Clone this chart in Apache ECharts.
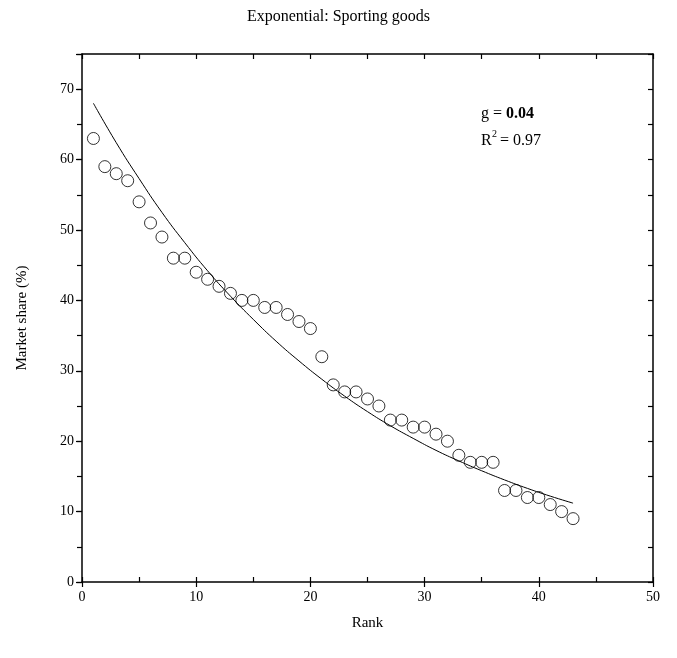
<!DOCTYPE html>
<html>
<head>
<meta charset="utf-8">
<script src="https://cdn.jsdelivr.net/npm/echarts@6/dist/echarts.min.js"></script>
<style>html,body{margin:0;padding:0;background:#fff}#c{width:677px;height:658px}</style>
</head>
<body>
<div id="c"></div>
<script>
var ranks = [];
for (var i = 1; i <= 43; i++) ranks.push(i);
var marketShare = [63,59,58,57,54,51,49,46,46,44,43,42,41,40,40,39,39,38,37,36,32,28,27,27,26,25,23,23,22,22,21,20,18,17,17,17,13,13,12,12,11,10,9];
var fitX = [1,3,5,7,9,11,13,15,17,19,21,23,25,27,29,31,33,35,37,39,41,43];
var fitY = [68.0,62.4,57.3,52.5,48.2,44.2,40.6,37.3,34.2,31.4,28.8,26.4,24.2,22.2,20.4,18.7,17.2,15.8,14.5,13.3,12.2,11.2];
var xTicks = [0,10,20,30,40,50];
var yTicks = [0,10,20,30,40,50,60,70];

var font = '"Liberation Serif", "Times New Roman", serif';
var chart = echarts.init(document.getElementById('c'), null, {renderer: 'canvas'});
var pts = ranks.map(function (r, i) { return [r, marketShare[i]]; });
var fit = fitX.map(function (x, i) { return [x, fitY[i]]; });
var lineStyle = {color: '#000', width: 1.5};
var tickStyle = {color: '#000', width: 1.2};
chart.setOption({
  animation: false,
  title: {text: 'Exponential: Sporting goods', left: 'center', top: 4,
    textStyle: {fontFamily: font, fontSize: 16, fontWeight: 'normal', color: '#000'}},
  grid: {left: 82, right: 24, top: 54, bottom: 76, show: false},
  xAxis: [
    {type: 'value', min: 0, max: 50, interval: 10, position: 'bottom',
      name: 'Rank', nameLocation: 'middle', nameGap: 34,
      nameTextStyle: {fontFamily: font, fontSize: 15, color: '#000'},
      axisLine: {show: true, onZero: false, lineStyle: lineStyle},
      axisTick: {show: true, inside: false, length: 5, lineStyle: tickStyle},
      axisLabel: {fontFamily: font, fontSize: 14, color: '#000', margin: 8,
        formatter: function (v) { return xTicks.indexOf(v) >= 0 ? String(v) : ''; }},
      splitLine: {show: false}},
    {type: 'value', min: 0, max: 50, interval: 5, position: 'bottom',
      axisLine: {show: false, onZero: false}, axisTick: {show: true, inside: true, length: 5, lineStyle: tickStyle},
      axisLabel: {show: false}, splitLine: {show: false}},
    {type: 'value', min: 0, max: 50, interval: 5, position: 'top',
      axisLine: {show: true, onZero: false, lineStyle: lineStyle}, axisTick: {show: true, inside: true, length: 5, lineStyle: tickStyle},
      axisLabel: {show: false}, splitLine: {show: false}}
  ],
  yAxis: [
    {type: 'value', min: 0, max: 75, interval: 10, position: 'left',
      name: 'Market share (%)', nameLocation: 'middle', nameGap: 52, nameRotate: 90,
      nameTextStyle: {fontFamily: font, fontSize: 15, color: '#000'},
      axisLine: {show: true, onZero: false, lineStyle: lineStyle},
      axisTick: {show: true, inside: false, length: 6, lineStyle: tickStyle},
      axisLabel: {fontFamily: font, fontSize: 14, color: '#000', margin: 8,
        formatter: function (v) { return yTicks.indexOf(v) >= 0 ? String(v) : ''; }},
      splitLine: {show: false}},
    {type: 'value', min: 0, max: 75, interval: 5, position: 'left',
      axisLine: {show: false, onZero: false}, axisTick: {show: true, inside: false, length: 5, lineStyle: tickStyle},
      axisLabel: {show: false}, splitLine: {show: false}},
    {type: 'value', min: 0, max: 75, interval: 5, position: 'right',
      axisLine: {show: true, onZero: false, lineStyle: lineStyle}, axisTick: {show: true, inside: true, length: 5, lineStyle: tickStyle},
      axisLabel: {show: false}, splitLine: {show: false}}
  ],
  series: [
    {type: 'line', data: fit, smooth: true, showSymbol: false, symbol: 'none',
      lineStyle: {color: '#000', width: 1}, z: 2},
    {type: 'scatter', data: pts, symbol: 'circle', symbolSize: 12,
      itemStyle: {color: 'rgba(0,0,0,0)', borderColor: '#000', borderWidth: 1}, z: 3}
  ],
  graphic: [
    {type: 'text', left: 481, top: 106, style: {
      text: '{n|g = }{b|0.04}',
      rich: {n: {fontFamily: font, fontSize: 16, fill: '#000'}, b: {fontFamily: font, fontSize: 16, fontWeight: 'bold', fill: '#000'}}}},
    {type: 'text', left: 481, top: 133, style: {text: 'R', font: '16px ' + font, fill: '#000'}},
    {type: 'text', left: 492, top: 129, style: {text: '2', font: '10px ' + font, fill: '#000'}},
    {type: 'text', left: 500, top: 133, style: {text: '= 0.97', font: '16px ' + font, fill: '#000'}}
  ]
});
</script>
</body>
</html>
